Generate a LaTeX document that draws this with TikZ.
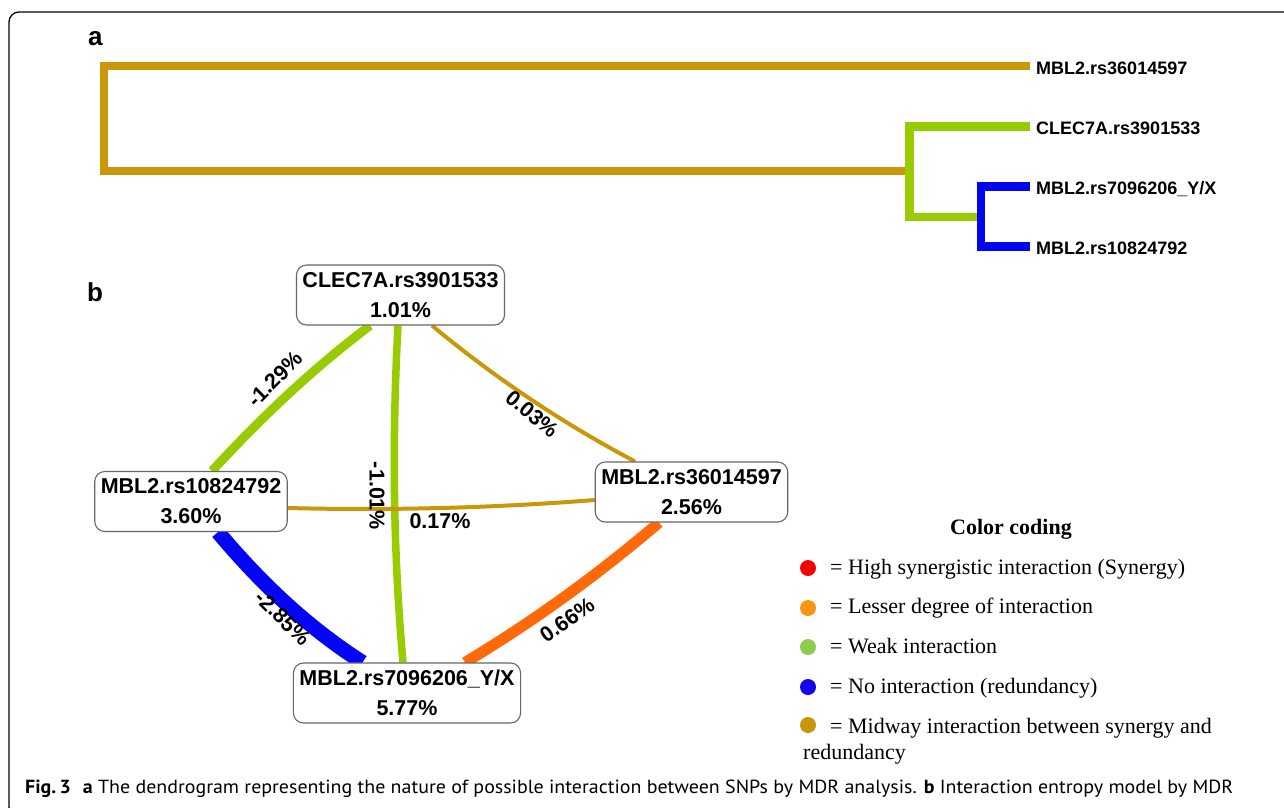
\documentclass[tikz,border=0pt]{standalone}
\usepackage{graphicx}
\usepackage{fontspec}
\setmainfont{Liberation Serif}
\newfontfamily\arial{Liberation Sans}
\newfontfamily\capfont{PT Sans}
\usetikzlibrary{backgrounds,calc}
\definecolor{gold}{RGB}{201,152,8}
\definecolor{lgreen}{RGB}{153,204,0}
\definecolor{dblue}{RGB}{5,5,245}
\definecolor{eorange}{RGB}{255,105,10}
\definecolor{cred}{RGB}{240,5,5}
\definecolor{corange}{RGB}{252,148,22}
\definecolor{cgreen}{RGB}{140,205,80}
\definecolor{cblue}{RGB}{20,5,235}
\definecolor{cgold}{RGB}{200,150,12}
\begin{document}
\begin{tikzpicture}[x=1pt,y=-1pt,
 dendro/.style={line width=8.5pt, line join=miter, line cap=butt},
 dleaf/.style={anchor=base west, inner xsep=6pt, inner ysep=0pt, font=\arial\bfseries\fontsize{18}{18}\selectfont},
 snp/.style={draw=black!60, line width=1.1pt, rounded corners=10pt, fill=white, align=center, minimum height=60pt, inner xsep=6pt, inner ysep=0pt, font=\arial\bfseries\fontsize{21.5}{30}\selectfont},
 elab/.style={font=\arial\bfseries\fontsize{21.5}{21.5}\selectfont, inner sep=0pt},
 link/.style={line cap=butt},
 ldot/.style={circle, inner sep=0pt, minimum size=16pt},
 legtxt/.style={anchor=base west, inner sep=0pt, font=\fontsize{22}{26}\selectfont},
 panel/.style={anchor=base west, inner sep=0pt, font=\arial\bfseries\fontsize{26}{26}\selectfont}
]
\useasboundingbox (0,0) rectangle (1284,807);
\clip (0,0) rectangle (1284,807);
% frame
\draw[line width=1.3pt, rounded corners=10pt] (1300,12) -- (9,12) -- (9,817) -- (40,817);
% panel letters
\node[panel] (pa) at (88,45) {a};
\node[panel] (pb) at (87,301.5) {b};
% dendrogram
\node[dleaf] (d365) at (1030,74) {MBL2.rs36014597};
\node[dleaf] (dclec) at (1030,134.7) {CLEC7A.rs3901533};
\node[dleaf] (d709) at (1030,194.7) {MBL2.rs7096206\_Y/X};
\node[dleaf] (d108) at (1030,254.3) {MBL2.rs10824792};
\draw[dendro, gold] ($(d365.base west)+(0,-8)$) -| (104,171) -- (909.5,171);
\draw[dendro, lgreen] ($(dclec.base west)+(0,-8)$) -| (909.5,217) -- (981,217);
\draw[dendro, dblue] ($(d709.base west)+(0,-8)$) -| ($(d108.base west)+(-49,-8)$) -- ($(d108.base west)+(0,-8)$);
% interaction graph
\node[snp] (clec) at (400.5,295) {CLEC7A.rs3901533\\1.01\%};
\node[snp] (r108) at (191,501.5) {MBL2.rs10824792\\3.60\%};
\node[snp] (r365) at (691.5,492) {MBL2.rs36014597\\2.56\%};
\node[snp] (r709) at (407,693) {MBL2.rs7096206\_Y/X\\5.77\%};
\begin{scope}[on background layer]
\fill[white] (0,0) rectangle (1284,807);
\draw[link, lgreen, line width=9pt] ($(clec.south)+(-30.5,0)$) .. controls (313.5,368.2) and (262.5,416.2) .. ($(r108.north)+(21,0)$);
\draw[link, lgreen, line width=7.5pt] ($(clec.south)+(-2.5,0)$) .. controls (392,438) and (393,550) .. ($(r709.north)+(-4,0)$);
\draw[link, gold, line width=4pt] ($(clec.south)+(31.5,0)$) .. controls (495,378) and (563,423.4) .. ($(r365.north)+(-56.5,0)$);
\draw[link, gold, line width=4pt] ($(r108.east)+(0,6.5)$) .. controls (390,510.6) and (493,508) .. ($(r365.west)+(0,8)$);
\draw[link, dblue, line width=15pt] ($(r108.south)+(27,0)$) .. controls (261.6,584.1) and (308,627.5) .. ($(r709.north)+(-44.5,0)$);
\draw[link, eorange, line width=11pt] ($(r365.south)+(-32.5,0)$) .. controls (598.2,574.4) and (533.6,621.4) .. ($(r709.north)+(58,0)$);
\end{scope}
\node[elab, rotate=45] (e1) at (275,379) {-1.29\%};
\node[elab, rotate=-90] (e2) at (377,496) {-1.01\%};
\node[elab, rotate=-40] (e3) at (532,414) {0.03\%};
\node[elab] (e4) at (440,521) {0.17\%};
\node[elab, rotate=-45] (e5) at (283,618) {-2.85\%};
\node[elab, rotate=35] (e6) at (567,620) {0.66\%};
% legend
\node[anchor=base, inner sep=0pt, font=\bfseries\fontsize{22}{22}\selectfont] (lt) at (1011,534) {Color coding};
\node[ldot, fill=cred] (c1) at (808,568) {};
\node[ldot, fill=corange] (c2) at (808,608) {};
\node[ldot, fill=cgreen] (c3) at (808,647) {};
\node[ldot, fill=cblue] (c4) at (808,687) {};
\node[ldot, fill=cgold] (c5) at (808,725) {};
\node[legtxt] (t1) at (830,574) {= High synergistic interaction (Synergy)};
\node[legtxt] (t2) at (830,613.3) {= Lesser degree of interaction};
\node[legtxt] (t3) at (830,653) {= Weak interaction};
\node[legtxt] (t4) at (830,693) {= No interaction (redundancy)};
\node[legtxt] (t5) at (830,733.3) {= Midway interaction between synergy and};
\node[legtxt] (t6) at (803,759.3) {redundancy};
% caption
\node[anchor=base west, inner sep=0pt] (cap) at (25,793) {\resizebox{1208pt}{\height}{\capfont\fontsize{19}{19}\selectfont\textbf{Fig.\,3}\hspace{0.6em}\textbf{a} The dendrogram representing the nature of possible interaction between SNPs by MDR analysis. \textbf{b} Interaction entropy model by MDR}};
\end{tikzpicture}
\end{document}
